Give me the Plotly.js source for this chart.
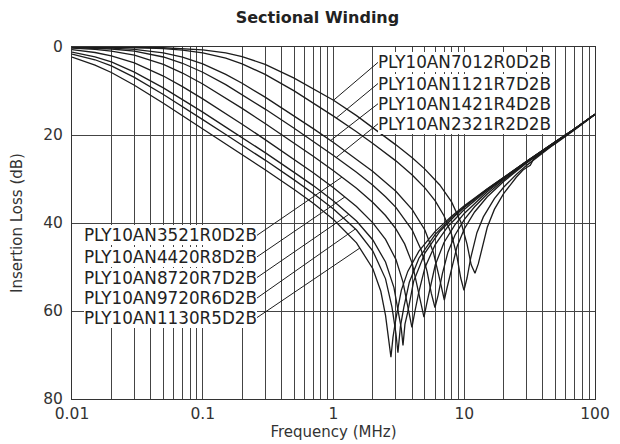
<!DOCTYPE html>
<html><head><meta charset="utf-8">
<script src="https://cdn.plot.ly/plotly-3.0.1.min.js"></script>
<style>html,body{margin:0;padding:0;background:#fff}#chart{width:620px;height:444px}</style>
</head><body><div id="chart"></div>
<script>
// ---- data ----
const f_1130 = [0.01,0.015,0.02,0.03,0.05,0.07,0.1,0.15,0.2,0.3,0.5,0.7,1,1.5,2,2.3,2.5,2.65,2.75,2.85,3.0,3.3,3.7,4.5,6,8,10,15,20,30,50,70,100];
const il_1130 = [2.3,4.1,5.8,8.7,12.8,15.6,18.6,22.0,24.5,27.9,32.4,35.5,39.2,44.5,50.4,55.52,61.0,66.5,70.5,66.0,61.8,55.3,51.0,46.4,41.9,38.45,36.1,32.2,29.6,25.96,21.5,18.6,15.3];

const f_9720 = [0.01,0.015,0.02,0.03,0.05,0.07,0.1,0.15,0.2,0.3,0.5,0.7,1,1.5,2,2.5,2.8,3.0,3.11,3.25,3.45,3.8,4.5,6,8,10,15,20,30,50,70,100];
const il_9720 = [1.6,2.9,4.3,6.9,10.8,13.5,16.5,19.9,22.3,25.7,30.2,33.3,36.8,41.6,46.36,52.69,59.1,65.0,69.5,63.5,59.2,53.45,48.0,42.57,38.78,36.3,32.28,29.61,25.98,21.5,18.6,15.3];

const f_8720 = [0.01,0.015,0.02,0.03,0.05,0.07,0.1,0.15,0.2,0.3,0.5,0.7,1,1.5,2,2.5,2.9,3.15,3.3,3.4,3.52,3.7,4.1,5,6.5,8.5,10,15,20,30,50,70,100];
const il_8720 = [1.15,2.25,3.4,5.7,9.3,11.9,14.8,18.2,20.6,24.0,28.5,31.5,35.0,39.55,43.86,48.87,54.69,61.1,64.0,67.8,63.0,60.2,53.26,46.82,41.93,38.34,36.48,32.35,29.65,25.99,21.5,18.59,15.3];

const f_4420 = [0.01,0.015,0.02,0.03,0.05,0.07,0.1,0.15,0.2,0.3,0.5,0.7,1,1.5,2,2.5,3,3.4,3.7,3.98,4.2,4.5,5,6,7.5,10,15,20,30,50,70,100];
const il_4420 = [0.6,1.25,2.0,3.6,6.6,9.0,11.8,15.1,17.54,21.05,25.56,28.6,31.99,36.27,39.97,43.74,48.26,53.42,59.0,63.7,60.0,55.6,50.16,44.89,40.79,36.92,32.53,29.75,26.04,21.53,18.61,15.3];

const f_3521 = [0.01,0.015,0.02,0.03,0.05,0.07,0.1,0.15,0.2,0.3,0.5,0.7,1,1.5,2,2.5,3,3.5,4,4.4,4.7,4.92,5.15,5.5,6,7,8.5,10,15,20,30,50,70,100];
const il_3521 = [0.25,0.54,0.93,1.86,3.95,5.92,8.41,11.57,13.95,17.39,21.84,24.83,28.11,32.11,35.33,38.29,41.32,44.75,49.17,54.58,58.5,61.4,58.5,54.6,49.55,44.43,40.37,37.82,32.89,29.94,26.12,21.55,18.62,15.3];

const f_2321 = [0.01,0.015,0.02,0.03,0.05,0.07,0.1,0.15,0.2,0.3,0.5,0.7,1,1.5,2,2.5,3,4,4.7,5.2,5.6,5.97,6.3,6.8,7.5,8.5,10,12,15,20,30,50,70,100];
const il_2321 = [0.12,0.26,0.45,0.96,2.27,3.7,5.73,8.55,10.78,14.11,18.48,21.42,24.64,28.47,31.44,34.02,36.45,41.59,46.22,51.04,56.0,59.2,56.5,51.56,46.63,42.73,39.24,36.3,33.39,30.21,26.23,21.59,18.64,15.3];

const f_1421 = [0.01,0.015,0.02,0.03,0.05,0.07,0.1,0.15,0.2,0.3,0.5,0.7,1,1.5,2,3,4,5,5.8,6.4,6.75,7.04,7.35,7.9,8.8,10,12,15,20,30,50,70,100];
const il_1421 = [0.06,0.14,0.24,0.52,1.32,2.29,3.83,6.22,8.24,11.4,15.65,18.56,21.72,25.44,28.27,32.8,36.94,41.59,46.64,52.0,55.0,57.5,55.0,51.19,45.4,41.36,37.5,34.05,30.55,26.37,21.64,18.66,15.3];

const f_1121 = [0.01,0.02,0.03,0.05,0.07,0.1,0.15,0.2,0.3,0.5,0.7,1,1.5,2,3,4,5,6,7,8,8.8,9.4,9.95,10.5,11.2,12.5,14,17,20,25,30,40,50,70,100];
const il_1121 = [0.015,0.06,0.14,0.37,0.7,1.32,2.55,3.84,6.23,9.97,12.69,15.71,19.28,21.91,25.88,29.08,32.01,34.99,38.34,42.6,47.63,52.5,55.3,52.5,47.96,42.2,38.61,34.45,31.87,28.97,26.9,23.96,21.83,18.74,15.3];

const f_7012 = [0.01,0.02,0.05,0.1,0.15,0.2,0.3,0.5,0.7,1,1.5,2,3,4,5,6.5,8,9.5,10.5,11.3,12.08,12.8,13.7,15,17,20,25,28,30,32,34,38,45,50,70,100];
const il_7012 = [0.01,0.03,0.17,0.66,1.36,2.18,3.93,7.06,9.57,12.1,15.6,18.3,22.24,25.19,27.75,31.36,35.21,40.05,44.79,49.5,51.4,49.3,45.73,40.97,36.91,33.33,29.6,28.0,27.4,26.9,25.4,24.3,22.8,21.9,18.8,15.3];

const partNames = ['PLY10AN7012R0D2B','PLY10AN1121R7D2B','PLY10AN1421R4D2B','PLY10AN2321R2D2B',
                   'PLY10AN3521R0D2B','PLY10AN4420R8D2B','PLY10AN8720R7D2B','PLY10AN9720R6D2B','PLY10AN1130R5D2B'];
const freqs = [f_7012,f_1121,f_1421,f_2321,f_3521,f_4420,f_8720,f_9720,f_1130];
const losses = [il_7012,il_1121,il_1421,il_2321,il_3521,il_4420,il_8720,il_9720,il_1130];
const xTickLabels = ['0.01','0.1','1','10','100'];
const yTickLabels = ['0','20','40','60','80'];

// ---- presentation ----
const FONT = '"DejaVu Sans", Lato, sans-serif';
const INK = '#1c1c1c';
const GRID = '#444444';

const traces = freqs.map((f, i) => ({
  x: f, y: losses[i], type: 'scatter', mode: 'lines', name: partNames[i],
  line: {color: INK, width: 1.3}, hoverinfo: 'skip', showlegend: false
}));

// grid at 1..9 of every decade
const gridVals = [], gridText = [];
for (let d = -2; d <= 2; d++) {
  for (let m = 1; m <= 9; m++) {
    if (d === 2 && m > 1) break;
    gridVals.push(m * Math.pow(10, d));
    gridText.push(m === 1 ? xTickLabels[d + 2] : '');
  }
}

function ilAt(f, il, q) {
  const lq = Math.log10(q);
  for (let i = 0; i < f.length - 1; i++) {
    const a = Math.log10(f[i]), b = Math.log10(f[i + 1]);
    if (lq >= a && lq <= b) return il[i] + (lq - a) / (b - a) * (il[i + 1] - il[i]);
  }
  return il[il.length - 1];
}

// label placement: [series index, frequency where the leader meets the curve, label row (dB), side]
const labelPlace = [
  [0, 1.00, 3.5, 'r'], [1, 1.05, 8.3, 'r'], [2, 0.95, 12.9, 'r'], [3, 1.05, 17.45, 'r'],
  [4, 1.16, 42.8, 'l'], [5, 1.22, 47.7, 'l'], [6, 1.31, 52.4, 'l'], [7, 1.47, 57.05, 'l'], [8, 1.59, 61.5, 'l']
];
const annotations = labelPlace.map(([i, fq, row, side]) => ({
  x: Math.log10(fq), y: ilAt(freqs[i], losses[i], fq), xref: 'x', yref: 'y',
  axref: 'x', ayref: 'y',
  ax: side === 'r' ? 0.3403 : -0.5851, ay: row,
  xanchor: side === 'r' ? 'left' : 'right', yanchor: 'middle',
  text: partNames[i], showarrow: true, arrowhead: 0, arrowwidth: 1, arrowcolor: INK,
  standoff: 0, startstandoff: 0,
  bgcolor: '#ffffff', borderpad: 0, borderwidth: 0,
  font: {family: FONT, size: 16.8, color: '#222'}
}));

const layout = {
  width: 620, height: 444,
  margin: {l: 72, r: 25, t: 47, b: 45},
  paper_bgcolor: '#fff', plot_bgcolor: '#fff',
  font: {family: FONT, size: 15, color: '#333'},
  title: {text: '<b>Sectional Winding</b>', font: {family: FONT, size: 16, color: '#222'},
          xref: 'container', x: 0.512, xanchor: 'center', yref: 'container', y: 0.96, yanchor: 'middle'},
  xaxis: {
    type: 'log', range: [-2, 2], tickmode: 'array', tickvals: gridVals, ticktext: gridText,
    showgrid: true, gridcolor: GRID, gridwidth: 1, ticks: '', zeroline: false,
    showline: true, mirror: true, linecolor: '#333', linewidth: 1,
    tickfont: {family: FONT, size: 15.5, color: '#333'},
    title: {text: 'Frequency (MHz)', font: {family: FONT, size: 15, color: '#333'}, standoff: 3}
  },
  yaxis: {
    range: [80, 0], tickmode: 'array', tickvals: [0, 20, 40, 60, 80], ticktext: yTickLabels,
    showgrid: true, gridcolor: GRID, gridwidth: 1, ticks: '', zeroline: false,
    showline: true, mirror: true, linecolor: '#333', linewidth: 1, ticklabelstandoff: 5,
    tickfont: {family: FONT, size: 15.5, color: '#333'},
    title: {text: 'Insertion Loss (dB)', font: {family: FONT, size: 15, color: '#333'}, standoff: 16}
  },
  annotations: annotations
};

Plotly.newPlot('chart', traces, layout, {staticPlot: true, displayModeBar: false});
</script></body></html>
